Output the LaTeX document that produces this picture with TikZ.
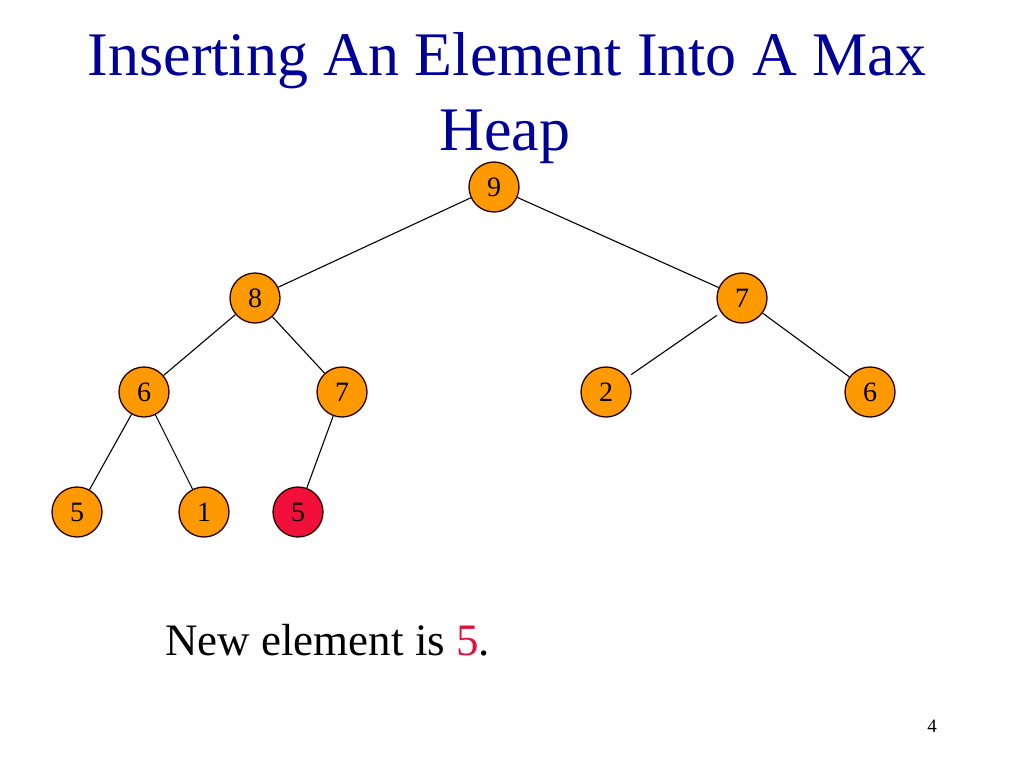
\documentclass[tikz,border=0pt]{standalone}
\usepackage{fontspec}
\setmainfont{Liberation Serif}
\definecolor{titleblue}{RGB}{0,0,153}
\definecolor{heaporange}{RGB}{255,153,0}
\definecolor{newred}{RGB}{240,16,58}
\definecolor{textred}{RGB}{225,16,58}
\begin{document}
\begin{tikzpicture}[x=1pt,y=-1pt,
  hnode/.style={circle,draw=black!85!red,line width=1.3pt,fill=heaporange,minimum size=50pt,inner sep=0pt,font=\fontsize{28}{32}\selectfont},
  newnode/.style={hnode,fill=newred},
  edge/.style={draw=black,line width=1.1pt},
  titletext/.style={anchor=base,text=titleblue,font=\fontsize{62}{75}\selectfont,inner sep=0pt}]
\useasboundingbox[fill=white] (0,0) rectangle (1024,768);
\node[titletext] (t1) at (507,75) {Inserting An Element Into A Max};
\node[titletext] (t2) at (505,150) {Heap};
\node[hnode] (n9) at (494,187) {9};
\node[hnode] (n8) at (255,298) {8};
\node[hnode] (n7r) at (742,298) {7};
\node[hnode] (n6l) at (144,392) {6};
\node[hnode] (n7m) at (342,392) {7};
\node[hnode] (n2) at (606,392) {2};
\node[hnode] (n6r) at (870,392) {6};
\node[hnode] (n5) at (77,512) {5};
\node[hnode] (n1) at (204,512) {1};
\node[newnode] (n5new) at (298,512) {5};
\draw[edge] (n9) -- (n8);
\draw[edge] (n9) -- (n7r);
\draw[edge] (n8) -- (n6l);
\draw[edge] (n8) -- (n7m);
\draw[edge,shorten <=5pt,shorten >=5pt] (n7r) -- (n2);
\draw[edge] (n7r) -- (n6r);
\draw[edge] (n6l) -- (n5);
\draw[edge] (n6l) -- (n1);
\draw[edge] (n7m) -- (n5new);
\node[anchor=base west,inner sep=0pt,font=\fontsize{45}{54}\selectfont] (msg) at (165,655) {New element is \textcolor{textred}{5}.};
\node[anchor=base,inner sep=0pt,font=\fontsize{19}{22}\selectfont] (pg) at (932,732) {4};
\end{tikzpicture}
\end{document}
